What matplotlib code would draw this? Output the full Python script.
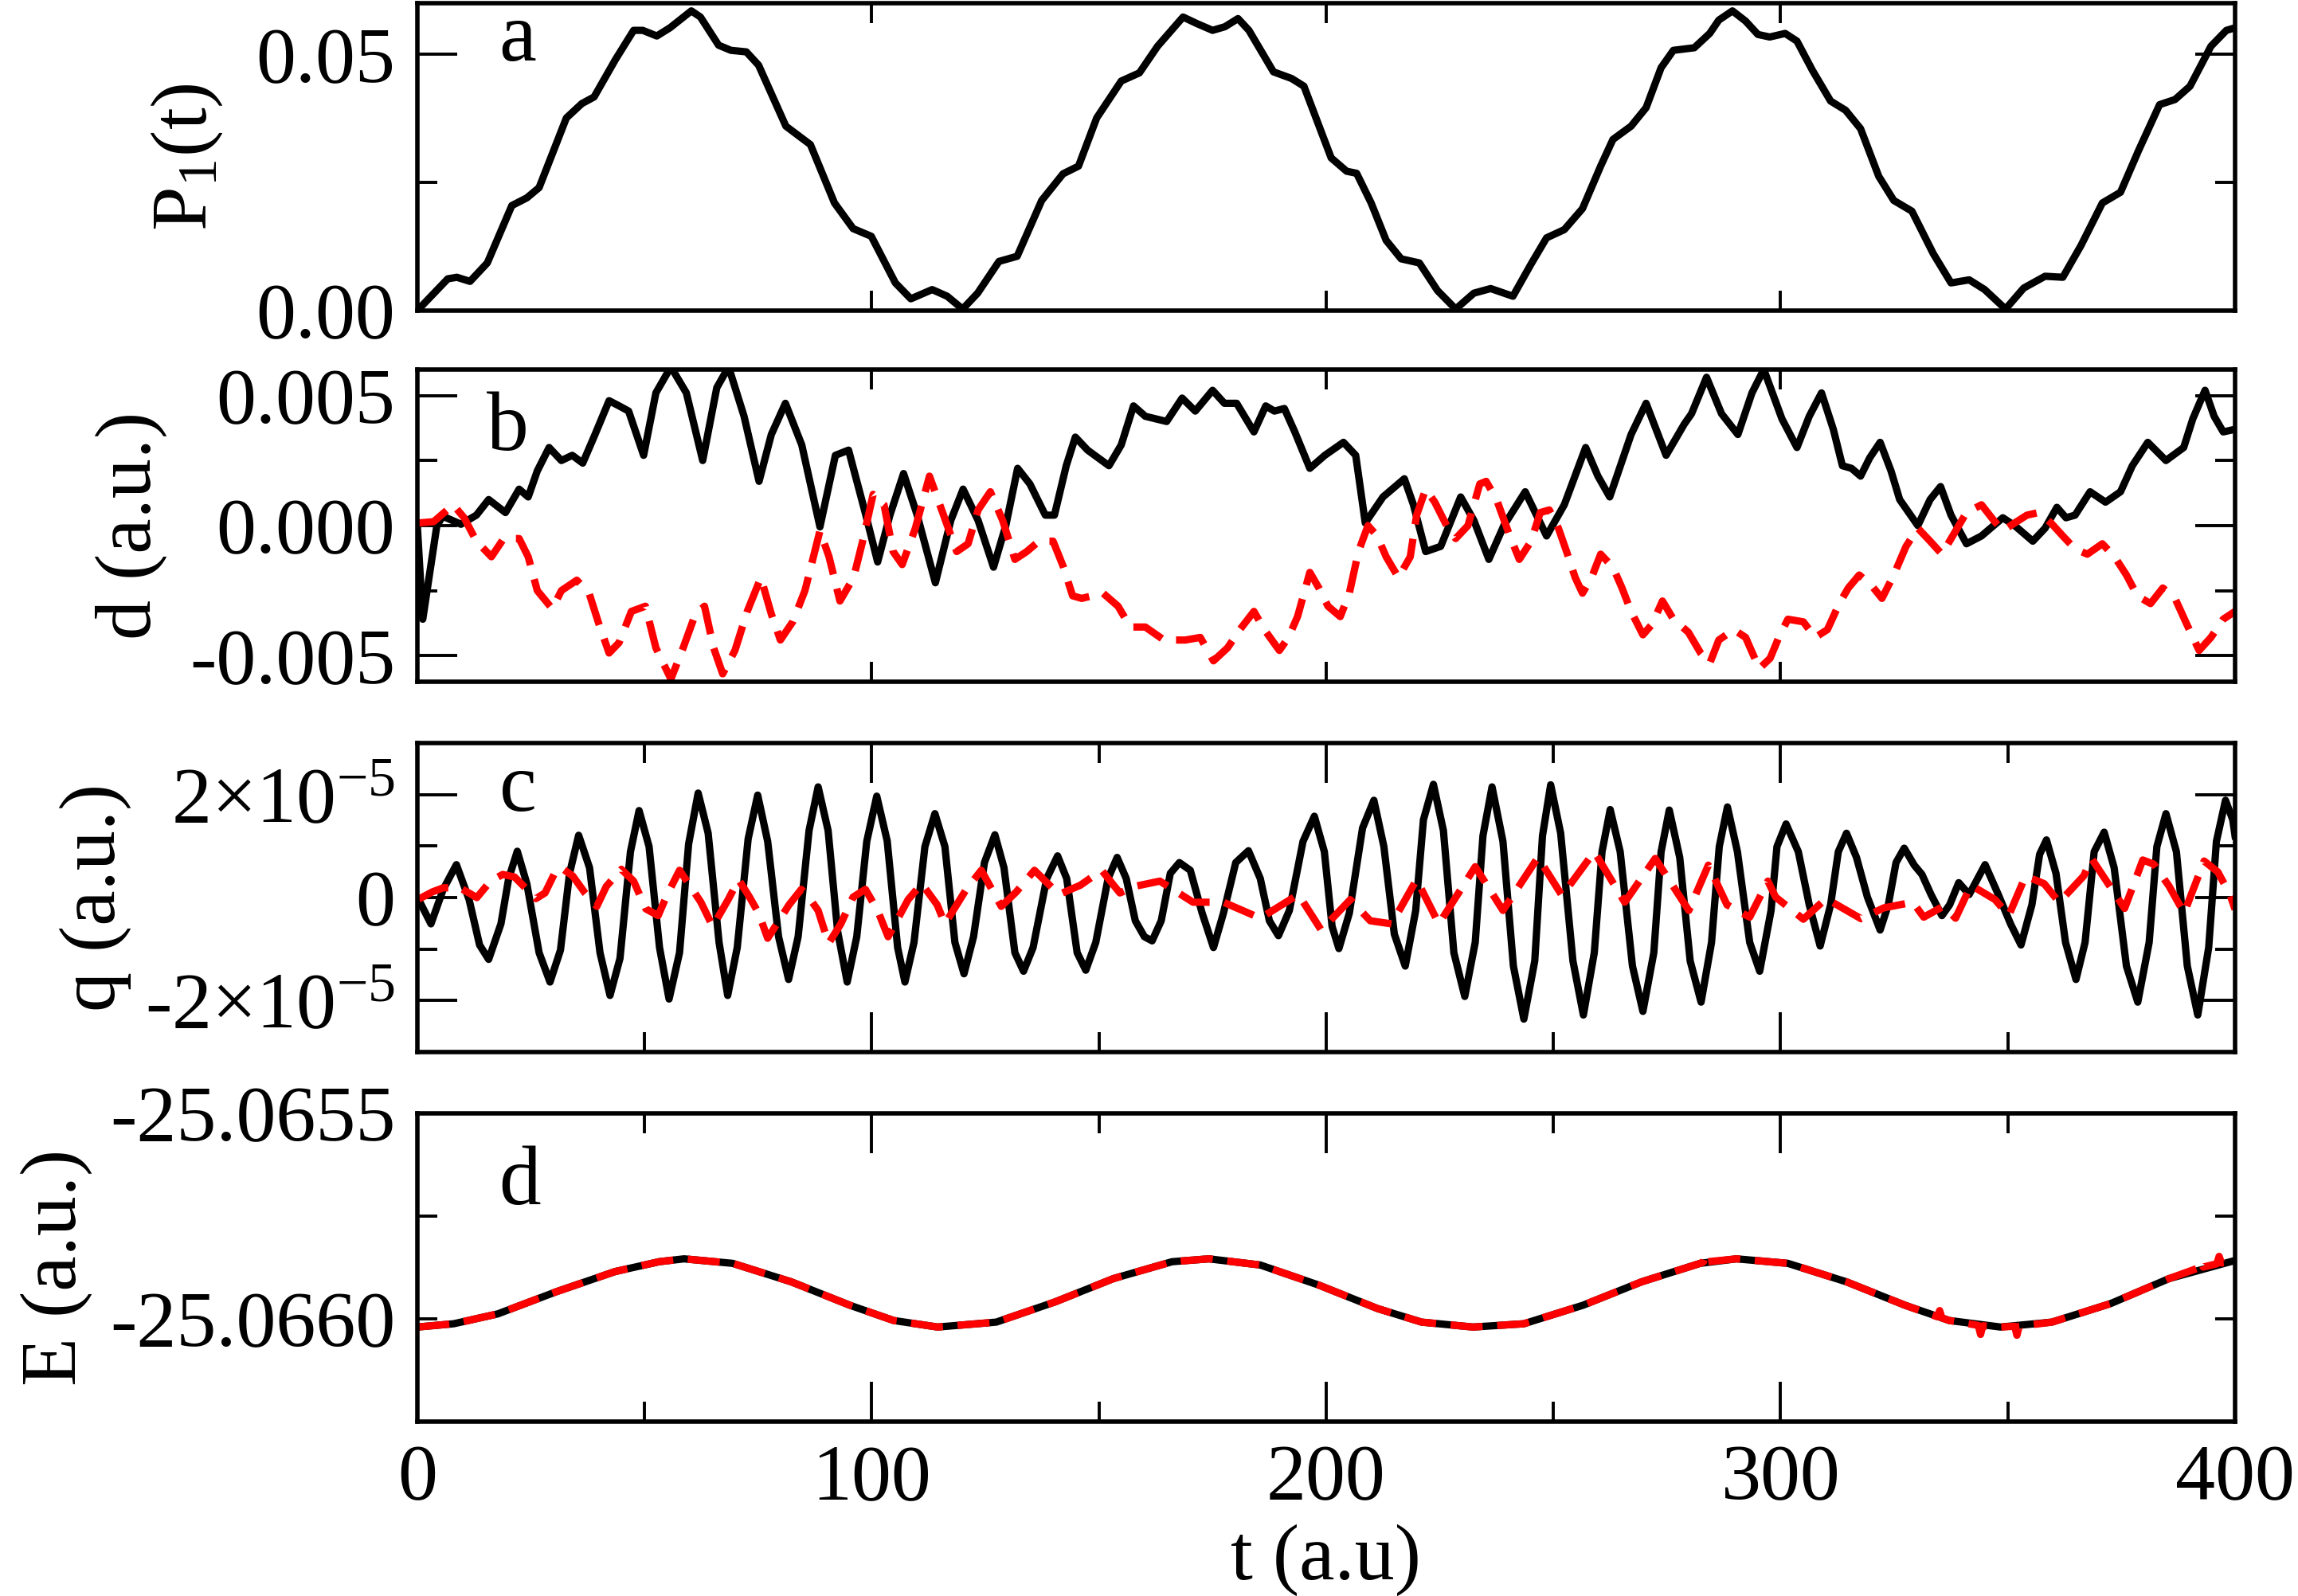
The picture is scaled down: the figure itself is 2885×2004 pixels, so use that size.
import numpy as np
import matplotlib
matplotlib.use("Agg")
import matplotlib.pyplot as plt

plt.rcParams["font.family"] = "serif"
plt.rcParams["font.serif"] = ["Liberation Serif", "DejaVu Serif"]
plt.rcParams["mathtext.fontset"] = "custom"
plt.rcParams["mathtext.rm"] = "Liberation Serif"
plt.rcParams["mathtext.it"] = "Liberation Serif:italic"
plt.rcParams["axes.unicode_minus"] = False

# ---- panel a : P1(t)  (t, value)
p1 = [(0, 0.0), (6.7, 0.0062), (8.7, 0.0065), (11.6, 0.0057), (15.4, 0.0093), (20.8, 0.0205),
      (24.1, 0.0220), (26.8, 0.0240), (32.8, 0.0376), (36.2, 0.0404), (38.9, 0.0417), (43.6, 0.0490),
      (47.6, 0.0547), (49.6, 0.0547), (52.7, 0.0536), (55.6, 0.0552), (60.3, 0.0585), (62.3, 0.0573),
      (66.3, 0.0518), (69.0, 0.0508), (72.4, 0.0505), (75.1, 0.0479), (81.1, 0.0360), (83.8, 0.0342),
      (86.5, 0.0324), (91.8, 0.0210), (95.9, 0.0160), (99.9, 0.0145), (105.2, 0.0054), (108.6, 0.0023),
      (113.3, 0.0041), (116.6, 0.0028), (120.0, 0.0003), (123.3, 0.0034), (128.0, 0.0096), (132.0, 0.0106),
      (137.4, 0.0215), (142.1, 0.0267), (145.5, 0.0282), (149.5, 0.0376), (154.9, 0.0448), (158.9, 0.0464),
      (162.9, 0.0516), (168.5, 0.0573), (171.6, 0.0560), (175.0, 0.0547), (177.7, 0.0554), (180.6, 0.0570),
      (183.0, 0.0547), (188.4, 0.0466), (192.4, 0.0453), (195.1, 0.0438), (201.1, 0.0298), (204.5, 0.0272),
      (206.7, 0.0268), (209.9, 0.0210), (213.2, 0.0137), (216.5, 0.0101), (220.5, 0.0093), (224.5, 0.0039),
      (228.5, 0.0003), (232.5, 0.0034), (236.2, 0.0043), (241.1, 0.0028), (245.1, 0.0091), (248.5, 0.0142),
      (252.4, 0.0158), (256.4, 0.0199), (260.4, 0.0282), (263.1, 0.0334), (267.1, 0.0360), (270.4, 0.0396),
      (273.7, 0.0474), (276.4, 0.0508), (281.0, 0.0513), (284.4, 0.0541), (286.4, 0.0567), (289.4, 0.0585),
      (292.3, 0.0565), (295.0, 0.0539), (297.6, 0.0534), (301.0, 0.0541), (303.6, 0.0526), (307.0, 0.0469),
      (311.0, 0.0409), (314.3, 0.0391), (317.6, 0.0355), (321.6, 0.0262), (324.9, 0.0215), (328.9, 0.0194),
      (333.6, 0.0111), (337.5, 0.0054), (341.5, 0.0060), (344.9, 0.0041), (349.5, 0.0003), (353.5, 0.0044),
      (358.2, 0.0067), (362.1, 0.0065), (366.1, 0.0127), (370.8, 0.0210), (374.8, 0.0231), (378.8, 0.0313),
      (383.4, 0.0402), (386.8, 0.0412), (390.1, 0.0438), (394.7, 0.0516), (398.1, 0.0547), (400.0, 0.0552)]

# ---- panel b : d (units of 1e-3 a.u.)
d_solid = [(0, 0.0), (1.2, -3.6), (4.3, 0.0), (5.6, 0.36), (9.6, 0.05), (13.0, 0.4), (15.7, 1.0),
           (19.4, 0.5), (22.4, 1.4), (24.4, 1.1), (26.4, 2.1), (29.0, 3.0), (31.7, 2.5), (34.1, 2.7),
           (36.4, 2.4), (39.1, 3.5), (42.2, 4.8), (44.4, 4.6), (46.5, 4.4), (49.8, 2.7), (52.5, 5.1),
           (55.8, 6.1), (59.2, 5.1), (62.8, 2.5), (65.9, 5.3), (68.5, 6.1), (71.9, 4.2), (75.2, 1.7),
           (77.9, 3.5), (81.0, 4.7), (84.6, 3.1), (88.6, -0.05), (92.0, 2.7), (94.9, 2.9), (98.7, 0.4),
           (101.3, -1.4), (104.0, 0.4), (107.0, 2.0), (110.0, 0.4), (114.0, -2.2), (117.4, 0.2),
           (120.1, 1.4), (123.4, 0.2), (126.8, -1.6), (129.5, 0.0), (132.1, 2.2), (134.8, 1.6),
           (138.2, 0.4), (140.2, 0.4), (142.8, 2.3), (144.8, 3.4), (147.5, 2.9), (152.2, 2.3),
           (154.9, 3.1), (157.6, 4.6), (160.2, 4.2), (164.9, 4.0), (168.3, 4.9), (171.2, 4.4),
           (175.0, 5.2), (177.6, 4.7), (180.3, 4.7), (184.1, 3.6), (186.7, 4.6), (188.6, 4.4),
           (190.8, 4.5), (193.1, 3.6), (196.4, 2.2), (199.7, 2.7), (203.8, 3.2), (206.5, 2.7),
           (208.6, 0.1), (212.5, 1.1), (217.2, 1.8), (219.2, 0.8), (221.9, -1.0), (225.2, -0.8),
           (229.6, 1.1), (232.5, 0.2), (235.8, -1.3), (239.1, 0.0), (243.8, 1.3), (248.5, -0.4),
           (252.4, 0.8), (257.1, 3.0), (259.8, 1.9), (262.4, 1.1), (267.1, 3.5), (270.4, 4.7),
           (274.8, 2.7), (278.8, 3.9), (280.4, 4.3), (283.7, 5.7), (287.0, 4.3), (290.6, 3.5),
           (293.7, 5.1), (296.3, 6.0), (300.3, 4.1), (303.6, 3.0), (306.3, 4.2), (309.0, 5.1),
           (311.6, 3.7), (313.6, 2.3), (315.6, 2.2), (317.6, 1.9), (319.6, 2.6), (321.9, 3.2),
           (324.3, 2.1), (326.2, 1.0), (330.2, 0.0), (332.9, 1.0), (335.2, 1.5), (337.5, 0.4),
           (340.9, -0.7), (344.2, -0.4), (348.9, 0.3), (351.5, 0.0), (355.5, -0.6), (358.2, -0.1),
           (360.8, 0.7), (362.8, 0.3), (364.8, 0.4), (368.1, 1.3), (371.5, 0.9), (374.8, 1.3),
           (377.4, 2.3), (380.8, 3.2), (384.8, 2.5), (388.7, 3.0), (390.7, 4.1), (393.4, 5.2),
           (395.4, 4.2), (397.4, 3.6), (400.0, 3.7)]

d_dash = [(0.3, 0.1), (3.6, 0.15), (7.9, 0.8), (10.3, 0.3), (13.0, -0.6), (16.3, -1.2), (19.0, -0.5),
          (22.4, -0.5), (24.4, -1.2), (26.4, -2.5), (29.7, -3.2), (31.7, -2.5), (35.1, -2.1),
          (37.8, -2.6), (39.8, -3.7), (42.2, -4.9), (44.4, -4.5), (47.1, -3.3), (50.2, -3.1),
          (52.5, -4.7), (55.8, -5.9), (58.5, -4.7), (61.2, -3.4), (63.2, -3.1), (65.2, -4.7),
          (67.2, -5.7), (69.9, -4.8), (72.6, -3.3), (75.6, -2.0), (77.9, -3.4), (79.9, -4.4),
          (82.6, -3.7), (85.3, -2.5), (88.6, -0.2), (90.6, -1.2), (93.0, -2.9), (96.0, -2.0),
          (98.0, -0.6), (100.3, 1.2), (102.7, 0.8), (104.7, -1.0), (106.7, -1.5), (109.6, -0.1),
          (112.7, 1.9), (115.8, 0.4), (118.7, -1.0), (121.2, -0.7), (123.4, 0.6), (126.1, 1.3),
          (128.8, 0.2), (131.5, -1.3), (134.1, -1.0), (136.8, -0.6), (139.9, -0.6), (142.2, -1.6),
          (144.2, -2.7), (146.2, -2.8), (150.9, -2.6), (154.2, -3.1), (156.9, -3.9), (160.2, -3.9),
          (164.3, -4.4), (169.0, -4.4), (172.3, -4.3), (175.2, -5.2), (178.3, -4.7), (181.0, -4.0),
          (184.1, -3.3), (186.4, -4.0), (189.7, -4.8), (191.7, -4.3), (193.7, -3.5), (196.4, -1.8),
          (198.4, -2.4), (200.4, -3.1), (203.1, -3.5), (205.1, -2.6), (207.1, -1.0), (209.2, 0.0),
          (211.2, -0.4), (213.2, -1.2), (215.9, -2.0), (218.5, -1.2), (219.9, 0.4), (221.9, 1.4),
          (223.9, 0.9), (226.5, 0.0), (228.5, -0.5), (231.2, 0.0), (233.8, 1.6), (235.2, 1.7),
          (237.5, 1.0), (240.2, -0.3), (242.5, -1.3), (245.1, -0.6), (247.1, 0.5), (249.1, 0.6),
          (251.1, -0.1), (253.1, -1.1), (254.8, -2.0), (256.4, -2.6), (258.4, -2.0), (260.4, -1.1),
          (263.1, -1.6), (265.1, -2.4), (267.1, -3.3), (269.7, -4.2), (271.7, -3.8), (274.0, -2.9),
          (276.4, -3.6), (279.7, -4.1), (282.4, -4.9), (284.4, -5.3), (286.4, -4.4), (289.7, -4.0),
          (292.3, -4.3), (295.3, -5.5), (297.7, -5.1), (299.6, -4.3), (301.6, -3.6), (305.0, -3.7),
          (307.6, -4.3), (310.3, -4.0), (312.9, -3.0), (314.9, -2.4), (317.3, -1.9), (320.0, -2.3),
          (322.3, -2.8), (324.9, -1.9), (327.6, -0.8), (330.2, -0.1), (332.9, -0.6), (335.5, -1.1),
          (338.2, -0.3), (340.9, 0.5), (344.2, 0.8), (346.9, 0.2), (348.9, -0.2), (351.5, 0.1),
          (354.2, 0.4), (356.8, 0.5), (359.5, 0.1), (362.1, -0.4), (364.8, -0.9), (367.5, -1.1),
          (370.8, -0.7), (373.5, -1.2), (376.1, -1.9), (378.5, -2.7), (381.4, -3.0), (384.1, -2.4),
          (386.8, -2.8), (389.4, -3.8), (392.1, -4.8), (394.7, -4.3), (397.4, -3.6), (400.0, -3.3)]

# ---- panel c : q (units of 1e-5 a.u.)
q_solid = [(0.3, -0.04), (3.0, -0.51), (5.7, 0.16), (8.6, 0.64), (11.4, -0.04), (13.7, -0.92),
           (15.7, -1.20), (18.4, -0.51), (20.1, 0.37), (22.0, 0.90), (24.1, 0.27), (26.8, -1.07),
           (29.2, -1.64), (31.5, -1.02), (33.5, 0.47), (35.5, 1.21), (37.9, 0.58), (40.2, -1.07),
           (42.4, -1.90), (44.6, -1.18), (46.9, 0.89), (48.8, 1.69), (51.0, 0.99), (53.3, -0.97),
           (55.4, -1.97), (57.7, -1.07), (59.7, 1.04), (61.8, 2.03), (64.0, 1.25), (66.4, -0.87),
           (68.3, -1.90), (70.4, -0.97), (72.8, 1.14), (74.9, 1.99), (77.1, 1.09), (79.5, -0.76),
           (81.7, -1.59), (83.8, -0.76), (86.2, 1.30), (88.2, 2.15), (90.4, 1.30), (92.5, -0.66),
           (94.6, -1.64), (96.7, -0.76), (98.9, 1.09), (101.1, 1.97), (103.4, 1.10), (105.7, -0.97),
           (107.3, -1.64), (109.3, -0.87), (111.7, 0.99), (113.9, 1.63), (116.1, 0.99), (118.3, -0.87),
           (120.3, -1.48), (122.4, -0.76), (124.8, 0.68), (127.1, 1.22), (129.1, 0.58), (131.5, -1.07),
           (133.4, -1.43), (135.5, -0.97), (138.5, 0.37), (140.9, 0.81), (142.9, 0.37), (145.2, -1.07),
           (147.1, -1.41), (149.3, -0.87), (152.0, 0.37), (154.0, 0.78), (156.0, 0.37), (158.0, -0.45),
           (160.0, -0.76), (161.7, -0.84), (163.7, -0.45), (165.7, 0.47), (167.7, 0.68), (170.1, 0.53),
           (172.7, -0.30), (175.2, -0.97), (177.4, -0.30), (180.1, 0.68), (182.9, 0.91), (185.5, 0.37),
           (187.5, -0.45), (189.5, -0.74), (191.9, -0.25), (194.9, 1.09), (197.4, 1.58), (199.6, 0.89),
           (201.3, -0.56), (202.8, -0.99), (205.1, -0.30), (208.0, 1.35), (210.5, 1.89), (212.7, 0.99),
           (215.0, -0.71), (217.4, -1.33), (219.7, -0.25), (221.4, 1.51), (223.6, 2.20), (225.8, 1.30),
           (228.1, -1.07), (230.5, -1.92), (232.8, -0.87), (234.5, 1.20), (236.5, 2.15), (238.9, 1.09),
           (241.2, -1.33), (243.5, -2.36), (245.9, -1.23), (247.6, 1.20), (249.4, 2.19), (251.6, 1.25),
           (254.3, -1.23), (256.6, -2.28), (259.0, -1.07), (260.7, 0.89), (262.5, 1.71), (264.7, 0.89),
           (267.4, -1.33), (269.7, -2.21), (272.1, -1.07), (273.7, 0.89), (275.5, 1.70), (277.8, 0.78),
           (280.1, -1.23), (282.5, -2.03), (284.8, -0.87), (286.5, 0.99), (288.3, 1.76), (290.5, 0.89),
           (293.2, -0.87), (295.4, -1.43), (297.9, -0.25), (299.2, 0.99), (301.2, 1.43), (303.9, 0.89),
           (306.3, -0.14), (308.7, -0.94), (311.0, -0.14), (312.7, 0.89), (314.5, 1.25), (316.7, 0.78),
           (319.1, 0.01), (321.9, -0.63), (323.7, -0.14), (325.4, 0.68), (327.2, 0.96), (329.4, 0.63),
           (331.1, 0.45), (333.1, 0.06), (335.5, -0.35), (337.2, -0.14), (339.2, 0.29), (341.5, 0.06),
           (345.0, 0.64), (347.9, 0.06), (350.6, -0.51), (352.9, -0.92), (355.3, -0.14), (357.0, 0.84),
           (358.5, 1.12), (360.6, 0.47), (362.7, -0.87), (365.0, -1.59), (367.0, -0.87), (369.0, 0.89),
           (371.2, 1.27), (373.4, 0.58), (376.1, -1.33), (378.6, -2.03), (381.1, -0.87), (382.8, 0.99),
           (384.8, 1.63), (387.1, 0.89), (389.5, -1.33), (391.8, -2.28), (394.2, -0.97), (395.9, 1.09),
           (397.9, 1.89), (399.5, 1.51), (400.0, 1.20)]

q_dash = [(0.3, -0.03), (3.3, 0.11), (5.7, 0.19), (9.4, 0.19), (13.1, 0.00), (16.1, 0.32), (18.8, 0.45),
          (21.4, 0.40), (24.1, 0.16), (26.1, -0.02), (28.1, 0.09), (30.2, 0.47), (31.5, 0.59),
          (34.2, 0.42), (36.9, 0.09), (39.5, -0.17), (41.6, 0.22), (44.9, 0.55), (47.6, 0.32),
          (50.3, -0.22), (53.0, -0.35), (55.0, 0.06), (57.7, 0.53), (59.7, 0.27), (62.4, -0.09),
          (65.0, -0.56), (68.4, -0.04), (70.7, 0.35), (73.1, 0.01), (75.1, -0.30), (77.1, -0.79),
          (81.8, -0.14), (84.5, 0.16), (86.5, -0.04), (88.2, -0.25), (90.5, -0.89), (93.2, -0.51),
          (95.9, 0.01), (98.6, 0.16), (101.3, -0.25), (103.6, -0.76), (108.0, -0.04), (111.0, 0.27),
          (114.4, -0.14), (116.1, -0.51), (120.8, 0.16), (124.1, 0.53), (128.5, -0.17), (131.8, 0.11),
          (135.8, 0.53), (141.2, 0.06), (145.9, 0.24), (150.6, 0.53), (154.6, 0.09), (158.0, 0.22),
          (163.4, 0.32), (170.7, -0.09), (177.4, -0.09), (185.5, -0.40), (193.9, 0.06), (198.9, -0.63),
          (205.3, -0.04), (209.7, -0.45), (214.4, -0.51), (219.9, 0.35), (224.8, -0.51), (232.8, 0.60),
          (238.9, -0.25), (246.6, 0.78), (251.9, 0.04), (259.0, 0.89), (265.7, -0.09), (272.4, 0.76),
          (279.8, -0.25), (284.1, 0.63), (288.2, -0.14), (293.2, -0.38), (297.2, 0.32), (298.9, 0.01),
          (305.0, -0.42), (310.0, -0.02), (317.7, -0.41), (322.7, -0.20), (329.1, -0.09), (331.5, -0.38),
          (335.8, -0.17), (338.5, -0.40), (341.9, 0.24), (347.2, -0.04), (350.2, -0.35), (353.9, 0.42),
          (358.0, 0.27), (361.3, -0.09), (366.7, 0.42), (368.4, 0.76), (375.7, -0.21), (379.7, 0.73),
          (382.1, 0.65), (385.5, 0.22), (388.8, -0.30), (393.2, 0.71), (396.2, 0.50), (398.9, 0.06),
          (400.0, -0.23)]

# ---- panel d : E (a.u.)
e_solid = [(0, -25.066020), (8.0, -25.066012), (17.7, -25.065988), (30.6, -25.065934),
           (43.5, -25.065885), (53.2, -25.065861), (58.7, -25.065854), (69.4, -25.065865),
           (82.3, -25.065910), (95.2, -25.065967), (104.8, -25.066004), (114.5, -25.066020),
           (127.4, -25.066008), (140.3, -25.065959), (153.2, -25.065902), (166.1, -25.065861),
           (174.2, -25.065854), (185.5, -25.065869), (198.4, -25.065918), (211.3, -25.065975),
           (221.0, -25.066008), (232.3, -25.066020), (243.5, -25.066012), (256.5, -25.065967),
           (269.4, -25.065910), (282.3, -25.065865), (290.3, -25.065854), (301.6, -25.065865),
           (314.5, -25.065910), (327.4, -25.065967), (337.1, -25.066004), (348.4, -25.066020),
           (359.7, -25.066008), (372.6, -25.065963), (385.5, -25.065902), (399.0, -25.065861),
           (400.0, -25.065858)]

e_dash = [(0, -25.066020), (8.0, -25.066012), (17.7, -25.065988), (30.6, -25.065934),
          (43.5, -25.065885), (53.2, -25.065861), (58.7, -25.065854), (69.4, -25.065865),
          (82.3, -25.065910), (95.2, -25.065967), (104.8, -25.066004), (114.5, -25.066020),
          (127.4, -25.066008), (140.3, -25.065959), (153.2, -25.065902), (166.1, -25.065861),
          (174.2, -25.065854), (185.5, -25.065869), (198.4, -25.065918), (211.3, -25.065975),
          (221.0, -25.066008), (232.3, -25.066020), (243.5, -25.066012), (256.5, -25.065967),
          (269.4, -25.065910), (282.3, -25.065865), (283.0, -25.065862), (283.5, -25.065842),
          (284.0, -25.065861), (290.3, -25.065854), (301.6, -25.065865), (314.5, -25.065910),
          (327.4, -25.065967), (334.5, -25.065995), (335.0, -25.065980), (335.5, -25.065998),
          (337.1, -25.066004), (343.5, -25.066016), (344.0, -25.066038), (344.5, -25.066017),
          (348.4, -25.066020), (351.5, -25.066018), (352.0, -25.066040), (352.5, -25.066018),
          (359.7, -25.066008), (372.6, -25.065963), (385.5, -25.065902), (392.0, -25.065876),
          (392.5, -25.065860), (393.0, -25.065874), (396.0, -25.065866), (396.5, -25.065848),
          (397.0, -25.065864), (399.0, -25.065861), (400.0, -25.065858)]

t_ticks = [0, 100, 200, 300, 400]
t_labels = ["0", "100", "200", "300", "400"]
p1_ticks, p1_labels = [0.0, 0.05], ["0.00", "0.05"]
d_ticks, d_labels = [-0.005, 0.0, 0.005], ["-0.005", "0.000", "0.005"]
q_ticks = [-2e-5, 0.0, 2e-5]
q_labels = [r"-2$\times$10$^{\mathregular{-5}}$", "0", r"2$\times$10$^{\mathregular{-5}}$"]
e_ticks, e_labels = [-25.0660, -25.0655], ["-25.0660", "-25.0655"]

FS = 36
LW = 3.3
RED_DASH = [4.4, 2.0]

fig = plt.figure(figsize=(14.425, 10.02), dpi=200)
L, R = 0.1816, 0.9726
boxes = [(0.8054, 0.998), (0.5729, 0.7685), (0.3408, 0.5344), (0.1093, 0.3024)]
axes = [fig.add_axes([L, b, R - L, t - b]) for b, t in boxes]


def style(ax, xmaj_len=18, ymaj_len=18, xminor=True):
    ax.set_xlim(0, 400)
    ax.set_xticks(t_ticks)
    if xminor:
        ax.set_xticks([50, 150, 250, 350], minor=True)
    ax.tick_params(which="both", direction="in", top=True, right=True, width=1.4,
                   labelsize=FS, pad=10)
    ax.tick_params(axis="x", which="major", length=xmaj_len)
    ax.tick_params(axis="y", which="major", length=ymaj_len)
    ax.tick_params(which="minor", length=9)
    for s in ax.spines.values():
        s.set_linewidth(2.0)


# a
ax = axes[0]
t, v = np.array(p1).T
ax.plot(t, v, color="black", lw=LW, solid_joinstyle="round")
style(ax, xmaj_len=9, xminor=False)
ax.set_ylim(0, 0.06)
ax.set_yticks(p1_ticks, p1_labels)
ax.set_yticks([0.025], minor=True)
ax.set_xticklabels([])
ax.set_ylabel(r"P$_{\mathregular{1}}$(t)", fontsize=FS, labelpad=14)
ax.text(0.045, 0.814, "a", transform=ax.transAxes, fontsize=38, va="baseline")

# b
ax = axes[1]
t, v = np.array(d_solid).T
ax.plot(t, v * 1e-3, color="black", lw=LW, solid_joinstyle="round")
t, v = np.array(d_dash).T
ax.plot(t, v * 1e-3, color="red", lw=LW, dashes=RED_DASH)
style(ax, xmaj_len=9, xminor=False)
ax.set_ylim(-0.006, 0.006)
ax.set_yticks(d_ticks, d_labels)
ax.set_yticks([-0.0025, 0.0025], minor=True)
ax.set_xticklabels([])
ax.set_ylabel("d (a.u.)", fontsize=FS, labelpad=10)
ax.text(0.038, 0.742, "b", transform=ax.transAxes, fontsize=38, va="baseline")

# c
ax = axes[2]
t, v = np.array(q_solid).T
ax.plot(t, v * 1e-5, color="black", lw=LW, solid_joinstyle="round")
t, v = np.array(q_dash).T
ax.plot(t, v * 1e-5, color="red", lw=LW, dashes=RED_DASH)
style(ax)
ax.set_ylim(-3e-5, 3e-5)
ax.set_yticks(q_ticks, q_labels)
ax.set_yticks([-1e-5, 1e-5], minor=True)
ax.set_xticklabels([])
ax.set_ylabel("q (a.u.)", fontsize=FS, labelpad=6)
ax.text(0.045, 0.782, "c", transform=ax.transAxes, fontsize=38, va="baseline")

# d
ax = axes[3]
t, v = np.array(e_solid).T
ax.plot(t, v, color="black", lw=LW, solid_joinstyle="round")
t, v = np.array(e_dash).T
ax.plot(t, v, color="red", lw=LW, dashes=RED_DASH)
style(ax, ymaj_len=9)
ax.set_ylim(-25.06625, -25.0655)
ax.set_yticks(e_ticks, e_labels)
ax.set_yticks([-25.06575], minor=True)
ax.set_xticklabels(t_labels)
ax.set_ylabel("E (a.u.)", fontsize=FS, labelpad=8)
ax.set_xlabel("t (a.u)", fontsize=FS, labelpad=4)
ax.text(0.045, 0.705, "d", transform=ax.transAxes, fontsize=38, va="baseline")

fig.savefig("out.png", dpi=200)
